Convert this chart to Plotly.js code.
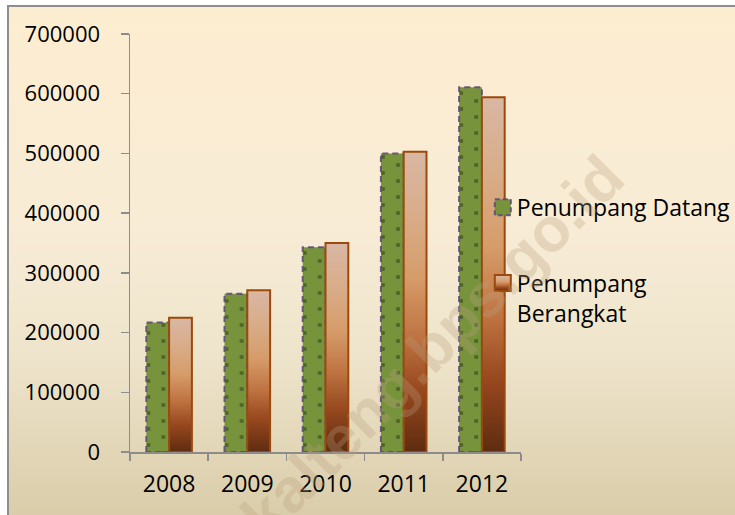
<!DOCTYPE html>
<html><head><meta charset="utf-8">
<script src="https://cdn.plot.ly/plotly-3.0.1.min.js"></script>
<style>
html,body{margin:0;padding:0;width:735px;height:515px;overflow:hidden;background:#fff;}
#bg{position:absolute;left:7px;top:5px;width:760px;height:540px;border-left:2px solid #8e8e8e;border-top:2px solid #8e8e8e;
background:linear-gradient(to bottom,#FDEDD0 0%,#F8ECD6 40%,#EEE4CB 65%,#D6C8A3 100%);}
#chart{position:absolute;left:0;top:0;width:735px;height:515px;}
</style></head><body>
<div id="bg"></div><div id="chart"></div>
<script>
const years = ['2008','2009','2010','2011','2012'];
const datang = [217000, 265000, 343000, 500000, 611000];
const berangkat = [225000, 271000, 350000, 503000, 594000];
const yTicks = [0,100000,200000,300000,400000,500000,600000,700000];
const seriesNames = ['Penumpang Datang','Penumpang<br>Berangkat'];
const watermark = 'kalteng.bps.go.id';

const FONT = 'Open Sans, Lato, sans-serif';

const data = [
  {type:'bar', x:years, y:datang, name:seriesNames[0], legendgroup:'a',
   marker:{color:'#77933C', line:{color:'rgba(96,74,123,0.9)', width:2}}, hoverinfo:'none'},
  {type:'bar', x:years, y:berangkat, name:seriesNames[1], legendgroup:'b',
   marker:{color:'#C47A4A', line:{color:'#9C4A0B', width:2}}, hoverinfo:'none'}
];

const layout = {
  width:735, height:515,
  margin:{l:130, r:214, t:34, b:63, autoexpand:false},
  paper_bgcolor:'rgba(0,0,0,0)', plot_bgcolor:'rgba(0,0,0,0)',
  barmode:'group', bargap:0.417, bargroupgap:0,
  showlegend:true,
  legend:{x:0.887, xanchor:'left', y:0.637, yanchor:'top', traceorder:'grouped', tracegroupgap:43,
          valign:'top', bgcolor:'rgba(0,0,0,0)', font:{family:FONT, size:23, color:'#000'}},
  xaxis:{type:'category', showline:true, linecolor:'#8c8c8c', linewidth:1.5, ticks:'outside', tickson:'boundaries',
         ticklen:7, tickcolor:'#8c8c8c', tickwidth:1.5, showgrid:false, zeroline:false,
         tickfont:{family:FONT, size:23, color:'#000'}, ticklabelstandoff:11, fixedrange:true},
  yaxis:{range:[0,700000], tickvals:yTicks, ticktext:yTicks.map(String), showline:true, linecolor:'#8c8c8c', linewidth:1.5,
         ticks:'outside', ticklen:8, tickcolor:'#8c8c8c', tickwidth:1.5, showgrid:false, zeroline:false,
         tickfont:{family:FONT, size:22, color:'#000'}, ticklabelstandoff:16, fixedrange:true},
  annotations:[{text:watermark, xref:'paper', yref:'paper', x:(432-130)/391, y:(452-346)/418,
                showarrow:false, textangle:-45, xanchor:'center', yanchor:'middle',
                font:{family:'Liberation Sans, Arial, sans-serif', size:62, color:'rgba(185,160,125,0.3)', weight:'bold'}}],
  font:{family:FONT}
};

const NS='http://www.w3.org/2000/svg';
function el(tag, attrs){const e=document.createElementNS(NS,tag);for(const k in attrs)e.setAttribute(k,attrs[k]);return e;}

function restyle(){
  const gd=document.getElementById('chart');
  const svg=gd.querySelector('svg.main-svg');
  let defs=svg.querySelector('defs');
  if(!document.getElementById('gradB')){
    const lg=el('linearGradient',{id:'gradB',x1:0,y1:0,x2:0,y2:1});
    [[0,'#D9B7A4'],[0.22,'#D8AC88'],[0.42,'#D69C6A'],[0.62,'#BE7341'],[0.8,'#96471E'],[1,'#5E2C11']].forEach(s=>{
      lg.appendChild(el('stop',{offset:s[0],'stop-color':s[1]}));
    });
    defs.appendChild(lg);
  }
  const traces=gd.querySelectorAll('.barlayer .trace');
  if(traces.length<2)return;
  traces[0].querySelectorAll('path').forEach((p,i)=>{
    const b=p.getBBox();
    const id='dotsA'+i;
    let old=document.getElementById(id); if(old)old.remove();
    const pat=el('pattern',{id:id,patternUnits:'userSpaceOnUse',x:b.x,y:b.y+b.height+3,width:200,height:16});
    pat.appendChild(el('rect',{x:0,y:0,width:200,height:16,fill:'#77933C'}));
    pat.appendChild(el('rect',{x:0.3,y:4.2,width:3.6,height:3.6,fill:'#4F6228'}));
    pat.appendChild(el('rect',{x:15.3,y:12.2,width:3.6,height:3.6,fill:'#4F6228'}));
    defs.appendChild(pat);
    p.style.fill='url(#'+id+')';
    p.style.strokeDasharray='6 4';
  });
  traces[1].querySelectorAll('path').forEach(p=>{p.style.fill='url(#gradB)';});
  const lt=gd.querySelectorAll('.legend .traces');
  lt.forEach((t,i)=>{
    const p=t.querySelector('.legendpoints path');
    if(!p)return;
    p.setAttribute('d','M14,8H-2V-8H14Z');
    if(i===0){p.style.strokeDasharray='5 3';}
    else{p.style.fill='url(#gradB)';}
  });
}

Plotly.newPlot('chart', data, layout, {displayModeBar:false, staticPlot:true}).then(gd=>{
  restyle();
  gd.on('plotly_afterplot', restyle);
});
</script>
</body></html>
